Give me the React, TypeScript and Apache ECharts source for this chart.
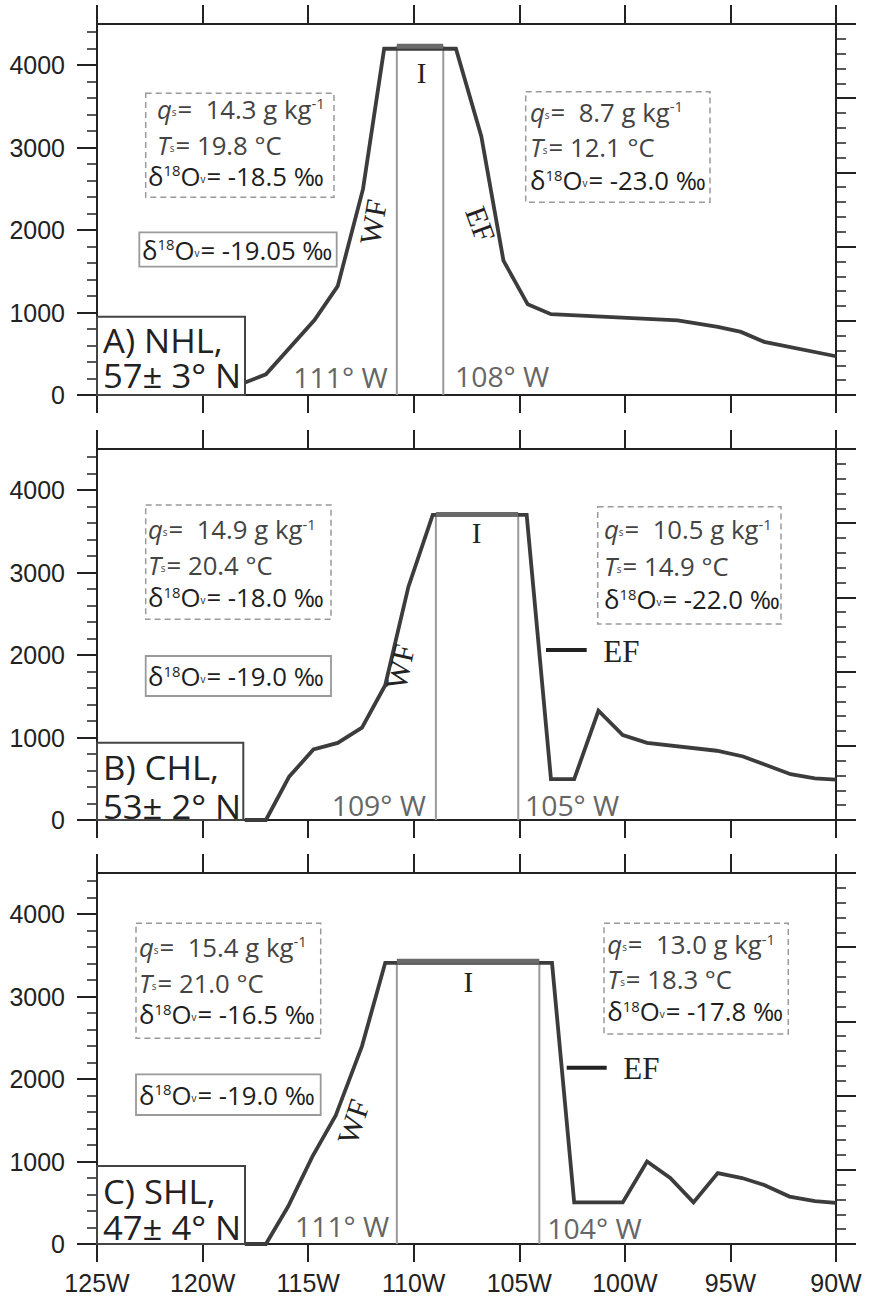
import React, { useEffect, useRef } from 'react';
import * as echarts from 'echarts';

// ---------- data ----------
const lonMin = -125;
const lonMax = -90;
const lonStep = 5;
const elevMax = 4500;
const elevTickValues = [0, 1000, 2000, 3000, 4000];
const elevMinorValues = [200, 400, 600, 800, 1200, 1400, 1600, 1800, 2200, 2400, 2600, 2800, 3200, 3400, 3600, 3800, 4200, 4400];

// Panel A) NHL
const lonA = [-118.2, -117, -114.7, -113.6, -112.4, -111.4, -108.0, -106.8, -105.75, -104.6, -103.5, -97.5, -95.6, -94.5, -93.4, -90];
const elevA = [130, 250, 910, 1320, 2500, 4200, 4200, 3140, 1630, 1100, 980, 905, 825, 765, 645, 470];
const dividersA = [-110.8, -108.6];
const plateauA = 4230;

// Panel B) CHL
const lonB = [-118, -117, -115.9, -114.75, -113.6, -112.45, -111.35, -110.25, -109.1, -104.65, -103.5, -102.4, -101.25, -100.1, -98.95, -95.65, -94.4, -92.15, -91.0, -90];
const elevB = [0, 0, 525, 855, 935, 1120, 1635, 2830, 3700, 3700, 495, 495, 1325, 1030, 935, 840, 770, 555, 505, 490];
const dividersB = [-108.95, -105.05];
const plateauB = 3705;

// Panel C) SHL
const lonC = [-118, -117, -115.95, -114.8, -113.7, -112.45, -111.35, -103.45, -102.4, -100.1, -98.95, -97.85, -96.75, -95.6, -94.45, -93.4, -92.2, -91.0, -90];
const elevC = [0, 0, 455, 1060, 1555, 2400, 3410, 3410, 505, 505, 1000, 800, 505, 860, 800, 715, 575, 520, 500];
const dividersC = [-110.8, -104.05];
const plateauC = 3430;

// texts
const panelTitle1 = ['A) NHL,', 'B) CHL,', 'C) SHL,'];
const panelTitle2 = ['57\u00b1 3\u00b0 N', '53\u00b1 2\u00b0 N', '47\u00b1 4\u00b0 N'];
const dividerLabelW = ['111\u00b0 W', '109\u00b0 W', '111\u00b0 W'];
const dividerLabelE = ['108\u00b0 W', '105\u00b0 W', '104\u00b0 W'];
const qsWest = ['14.3', '14.9', '15.4'];
const tsWest = ['19.8', '20.4', '21.0'];
const d18West = ['-18.5', '-18.0', '-16.5'];
const qsEast = ['8.7', '10.5', '13.0'];
const tsEast = ['12.1', '14.9', '18.3'];
const d18East = ['-23.0', '-22.0', '-17.8'];
const d18Mean = ['-19.05', '-19.0', '-19.0'];

// ---------- styles ----------
const SANS = '"Open Sans", "Noto Sans", sans-serif';
const SERIF = '"Liberation Serif", "DejaVu Serif", serif';
const ARIAL = '"Liberation Sans", Arial, sans-serif';
const AX = '#222';
const FS = 26;

const gridTops = [24, 449, 873];
const gridH = 371;

const panels = [
  { lon: lonA, elev: elevA, div: dividersA, plat: plateauA },
  { lon: lonB, elev: elevB, div: dividersB, plat: plateauB },
  { lon: lonC, elev: elevC, div: dividersC, plat: plateauC },
];

function rich(fill: string) {
  return {
    n: { fontSize: FS, fontFamily: SANS, fill },
    i: { fontSize: FS, fontFamily: SANS, fontStyle: 'italic', fill },
    s: { fontSize: 10, fontFamily: SANS, fill, verticalAlign: 'bottom', padding: [0, 1, 5, 0] },
    p: { fontSize: 15, fontFamily: SANS, fill, verticalAlign: 'top' },
  };
}

function richText(x: number, y: number, text: string, fill: string, sx = 0.99) {
  return {
    type: 'text', x, y, scaleX: sx, z: 100,
    style: { text, rich: rich(fill), fontSize: FS, fontFamily: SANS, fill, align: 'left', verticalAlign: 'middle' },
  };
}

function statBlock(i: number, east: boolean, box: number[], textX: number, cys: number[], indent: number) {
  const q = east ? qsEast[i] : qsWest[i];
  const t = east ? tsEast[i] : tsWest[i];
  const d = east ? d18East[i] : d18West[i];
  return [
    { type: 'rect', z: 100, shape: { x: box[0], y: box[1], width: box[2], height: box[3] }, style: { fill: 'none', stroke: '#9a9a9a', lineWidth: 1.5, lineDash: [6, 4] } },
    richText(textX + indent, cys[0], `{i|q}{s|s}{n|=  ${q} g kg}{p|-1}`, '#444'),
    richText(textX + indent, cys[1], `{i|T}{s|s}{n|= ${t} \u00b0C}`, '#444'),
    richText(textX, cys[2], `{n|\u03b4}{p|18}{n|O}{s|v}{n|= ${d} \u2030}`, '#1e1e1e'),
  ];
}

function meanBox(i: number, box: number[], textX: number) {
  return [
    { type: 'rect', z: 100, shape: { x: box[0], y: box[1], width: box[2], height: box[3] }, style: { fill: 'none', stroke: '#9a9a9a', lineWidth: 1.8 } },
    richText(textX, box[1] + box[3] / 2, `{n|\u03b4}{p|18}{n|O}{s|v}{n|= ${d18Mean[i]} \u2030}`, '#1e1e1e'),
  ];
}

function titleBox(i: number, box: number[], cys: number[]) {
  return [
    { type: 'rect', z: 100, shape: { x: box[0], y: box[1], width: box[2], height: box[3] }, style: { fill: '#fff', stroke: '#444', lineWidth: 2 } },
    { type: 'text', z: 101, x: box[0] + 6, y: cys[0], scaleX: 1.05, style: { text: panelTitle1[i], fontSize: 33, fontFamily: SANS, fill: '#222', align: 'left', verticalAlign: 'middle' } },
    { type: 'text', z: 101, x: box[0] + 6, y: cys[1], scaleX: 1.05, style: { text: panelTitle2[i], fontSize: 33, fontFamily: SANS, fill: '#222', align: 'left', verticalAlign: 'middle' } },
  ];
}

function divLabel(x: number, y: number, text: string) {
  return { type: 'text', z: 100, x, y, scaleX: 1.05, style: { text, fontSize: 27, fontFamily: SANS, fill: '#666', align: 'left', verticalAlign: 'middle' } };
}

function serif(x: number, y: number, text: string, size: number, rotDeg = 0, align = 'center') {
  return { type: 'text', z: 100, x, y, rotation: (rotDeg * Math.PI) / 180, style: { text, fontSize: size, fontFamily: SERIF, fill: '#222', align, verticalAlign: 'middle' } };
}

function efMark(x1: number, x2: number, y: number, tx: number, ty: number) {
  return [
    { type: 'line', z: 100, shape: { x1, y1: y, x2, y2: y }, style: { stroke: '#222', lineWidth: 4 } },
    serif(tx, ty, 'EF', 31, 0, 'left'),
  ];
}

const graphics: any[] = [
  // Panel A
  ...statBlock(0, false, [145.7, 93.3, 188.3, 104], 148, [108.8, 145, 175.5], 9),
  ...statBlock(0, true, [525.7, 91.7, 184.3, 110.6], 530, [111.7, 146.7, 180], 0),
  ...meanBox(0, [139.3, 232.3, 197.4, 34.4], 142),
  ...titleBox(0, [97, 316.7, 148, 78.3], [340, 375]),
  divLabel(293.3, 377, dividerLabelW[0]),
  divLabel(455, 376, dividerLabelE[0]),
  serif(421.5, 72.5, 'I', 29),
  serif(373, 222, 'WF', 30, 80),
  serif(480.5, 224, 'EF', 30, -70),
  // Panel B
  ...statBlock(1, false, [145.7, 505, 185.3, 114.3], 148, [529, 565, 597], 0),
  ...statBlock(1, true, [597.7, 506.7, 183.3, 117.3], 604, [529, 566, 599], 0),
  ...meanBox(1, [145.7, 656, 185.3, 40], 148),
  ...titleBox(1, [97, 742.7, 146.3, 77.3], [767.5, 806]),
  divLabel(331.7, 805, dividerLabelW[1]),
  divLabel(525, 805, dividerLabelE[1]),
  serif(476.7, 533.3, 'I', 29),
  serif(400, 666.7, 'WF', 30, 78),
  ...efMark(546, 586.7, 650, 603.3, 651.7),
  // Panel C
  ...statBlock(2, false, [136, 923.3, 184.7, 115], 139, [946.7, 982.5, 1014], 0),
  ...statBlock(2, true, [604, 923.3, 184.3, 110.7], 607.3, [944, 979, 1011], 0),
  ...meanBox(2, [136, 1074.3, 184.7, 40.7], 139),
  ...titleBox(2, [97, 1166, 148, 78], [1191, 1227.5]),
  divLabel(295, 1226.7, dividerLabelW[2]),
  divLabel(547.3, 1228.3, dividerLabelE[2]),
  serif(468.3, 981.7, 'I', 29),
  serif(353.3, 1121.7, 'WF', 30, 72),
  ...efMark(566.7, 606.7, 1067.7, 623.3, 1068.3),
];

function buildOption() {
  const grid: any[] = [];
  const xAxis: any[] = [];
  const yAxis: any[] = [];
  const series: any[] = [];
  const lineSt = { color: AX, width: 2 };
  panels.forEach((p, i) => {
    grid.push({ left: 97, width: 739, top: gridTops[i], height: gridH, containLabel: false });
    xAxis.push({
      type: 'value', gridIndex: i, position: 'bottom', min: lonMin, max: lonMax, interval: lonStep,
      axisLine: { show: true, onZero: false, lineStyle: lineSt },
      axisTick: { show: true, inside: false, length: 18, lineStyle: lineSt },
      axisLabel: { show: i === 2, formatter: (v: number) => `${Math.abs(v)}W`, fontSize: 25, color: AX, fontFamily: ARIAL, margin: 26 },
      splitLine: { show: false },
    });
    xAxis.push({
      type: 'value', gridIndex: i, position: 'top', min: lonMin, max: lonMax, interval: lonStep,
      axisLine: { show: true, onZero: false, lineStyle: lineSt },
      axisTick: { show: true, inside: false, length: 19, lineStyle: lineSt },
      axisLabel: { show: false },
      splitLine: { show: false },
    });
    yAxis.push({
      type: 'value', gridIndex: i, position: 'left', min: 0, max: elevMax,
      axisLine: { show: true, onZero: false, lineStyle: lineSt },
      axisTick: { show: true, inside: false, length: 20, customValues: elevTickValues, lineStyle: lineSt },
      axisLabel: { show: true, customValues: elevTickValues, formatter: (v: number) => String(v), fontSize: 25, color: AX, fontFamily: ARIAL, margin: 32 },
      splitLine: { show: false },
    });
    yAxis.push({
      type: 'value', gridIndex: i, position: 'left', min: 0, max: elevMax,
      axisLine: { show: false, onZero: false },
      axisTick: { show: true, inside: false, length: 10, customValues: elevMinorValues, lineStyle: { color: AX, width: 1.5 } },
      axisLabel: { show: false },
      splitLine: { show: false },
    });
    yAxis.push({
      type: 'value', gridIndex: i, position: 'right', min: 0, max: 5, interval: 1,
      axisLine: { show: true, onZero: false, lineStyle: lineSt },
      axisTick: { show: true, inside: false, length: 20, lineStyle: lineSt },
      minorTick: { show: true, splitNumber: 5, length: 10, lineStyle: { color: AX, width: 1.5 } },
      axisLabel: { show: false },
      splitLine: { show: false },
      minorSplitLine: { show: false },
    });
    const xi = 2 * i;
    const yi = 3 * i;
    p.div.forEach((lon) => {
      series.push({
        type: 'line', xAxisIndex: xi, yAxisIndex: yi, showSymbol: false, silent: true, z: 2,
        data: [[lon, 0], [lon, p.plat]],
        lineStyle: { color: '#9a9a9a', width: 2 },
      });
    });
    series.push({
      type: 'line', xAxisIndex: xi, yAxisIndex: yi, showSymbol: false, silent: true, z: 3,
      data: p.lon.map((lon, k) => [lon, p.elev[k]]),
      lineStyle: { color: '#3c3c3c', width: 3.8, join: 'miter' },
    });
    series.push({
      type: 'line', xAxisIndex: xi, yAxisIndex: yi, showSymbol: false, silent: true, z: 4,
      data: [[p.div[0], p.plat], [p.div[1], p.plat]],
      lineStyle: { color: '#6a6a6a', width: 5 },
    });
  });
  return {
    animation: false,
    backgroundColor: '#fff',
    grid, xAxis, yAxis, series,
    graphic: { elements: graphics },
  };
}

export default function App() {
  const ref = useRef<HTMLDivElement>(null);
  useEffect(() => {
    if (!ref.current) return;
    const chart = echarts.init(ref.current, null, { renderer: 'svg' });
    chart.setOption(buildOption() as any);
    return () => chart.dispose();
  }, []);
  return <div ref={ref} style={{ position: 'absolute', left: 0, top: 0, width: 873, height: 1297, background: '#fff' }} />;
}
